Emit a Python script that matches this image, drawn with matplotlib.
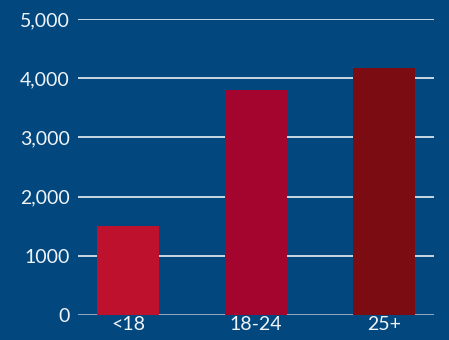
import matplotlib
matplotlib.use("Agg")
import matplotlib.pyplot as plt

categories = ["<18", "18-24", "25+"]
values = [1500, 3800, 4180]
colors = ["#bd112d", "#a3052f", "#7b0c12"]
yticks = [0, 1000, 2000, 3000, 4000, 5000]
ytick_labels = ["0", "1000", "2,000", "3,000", "4,000", "5,000"]

bg = "#02487f"
fig = plt.figure(figsize=(4.49, 3.40), dpi=100, facecolor=bg)
ax = fig.add_axes([78/449, 1-315/340, (434-78)/449, (315-19)/340], facecolor=bg)

ax.set_axisbelow(True)
for y in yticks:
    ax.axhline(y, color="white" if y else "#b5c3d3", lw=1.1, zorder=0)
x = range(len(categories))
ax.bar(x, values, width=0.484, color=colors, zorder=2)
ax.set_xlim(-0.39, 2.39)
ax.set_ylim(0, 5000)
ax.set_yticks(yticks)
font = dict(fontfamily="Lato", fontsize=14, fontweight="normal", color="#f0f4f8")
ax.set_yticklabels(ytick_labels, **font)
ax.set_xticks(list(x))
ax.set_xticklabels(categories, **font)
ax.tick_params(axis="y", length=0, pad=6)
ax.tick_params(axis="x", length=0, pad=1)
for s in ax.spines.values():
    s.set_visible(False)

fig.savefig("out.png", facecolor=bg)
